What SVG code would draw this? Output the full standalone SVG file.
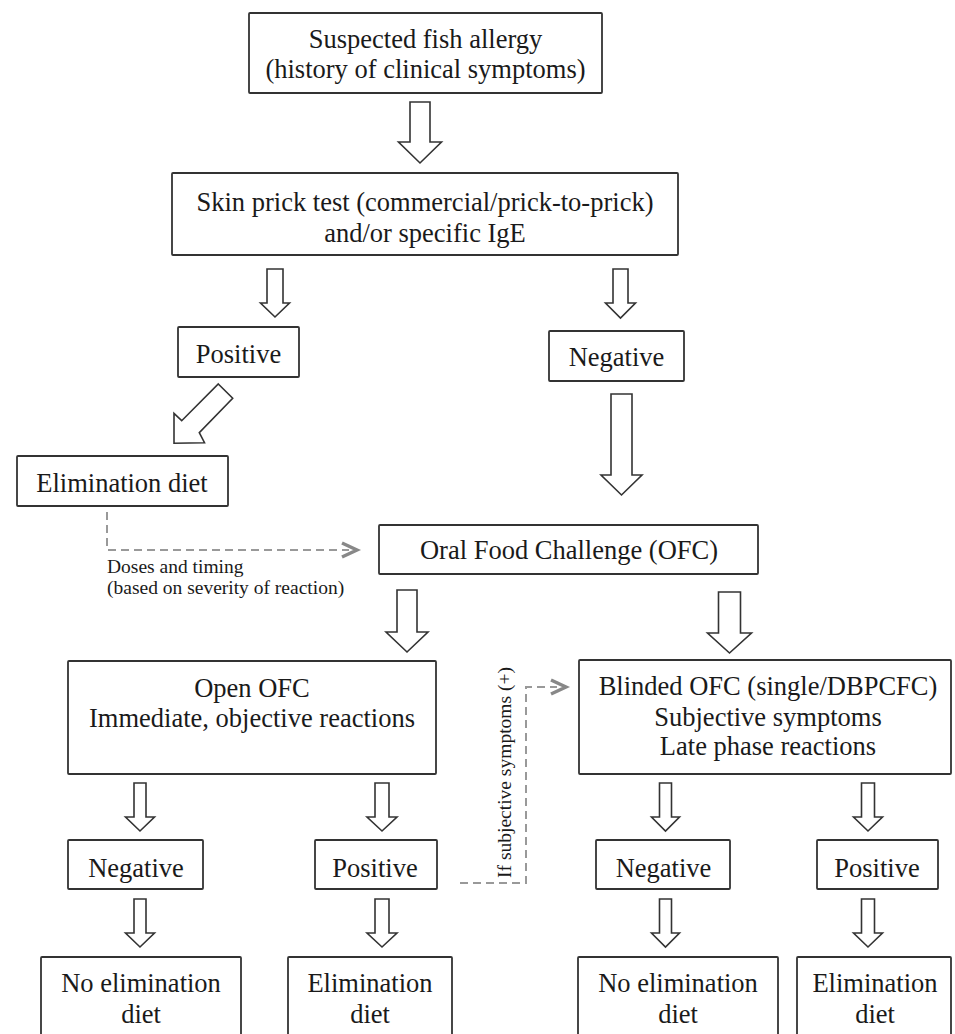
<svg xmlns="http://www.w3.org/2000/svg" width="955" height="1034" viewBox="0 0 955 1034">
<style>
.box{fill:#fff;stroke:#333;stroke-width:1.8}
.arr{fill:#fff;stroke:#333;stroke-width:1.6;stroke-linejoin:miter}
.t{font-family:"Liberation Serif","Times New Roman",serif;font-size:26.5px;fill:#1a1a1a;text-anchor:middle}
.s{font-family:"Liberation Serif","Times New Roman",serif;font-size:19.5px;fill:#1a1a1a}
.dash{fill:none;stroke:#999;stroke-width:2;stroke-dasharray:8 5}
.chev{fill:none;stroke:#888;stroke-width:3.4;stroke-linejoin:miter}
</style>
<rect width="955" height="1034" fill="#fff"/>
<g id="connectors">
<path class="arr" d="M410,102 H430 V142 H441.5 L420,163 L398.5,142 H410 Z"/>
<path class="arr" d="M267,269 H283 V303 H289.5 L275,317 L260.5,303 H267 Z"/>
<path class="arr" d="M613,269 H628 V303 H635.5 L620.5,318 L605.5,303 H613 Z"/>
<path class="arr" d="M611,394 H632 V475 H642 L621.5,495 L601,475 H611 Z"/>
<path class="arr" d="M218.3,384 L232.7,398.3 L199.3,432.7 L204.5,442.7 L174,443.3 L174,413.3 L181.7,420.7 Z"/>
<path class="arr" d="M397,590 H417 V632 H428 L407,652 L386,632 H397 Z"/>
<path class="arr" d="M718.5,592 H740.5 V633 H751.5 L729.5,653 L707.5,633 H718.5 Z"/>
<path class="arr" d="M134,783 H146 V817 H154.5 L140,831 L125.5,817 H134 Z"/>
<path class="arr" d="M134,899 H146 V933 H154.5 L140,947 L125.5,933 H134 Z"/>
<path class="arr" d="M375,783 H389 V817 H397 L382,831 L367,817 H375 Z"/>
<path class="arr" d="M375,899 H389 V933 H397 L382,947 L367,933 H375 Z"/>
<path class="arr" d="M659.5,783 H671.5 V817 H679.5 L665.5,831 L651.5,817 H659.5 Z"/>
<path class="arr" d="M659.5,899 H671.5 V933 H679.5 L665.5,947 L651.5,933 H659.5 Z"/>
<path class="arr" d="M861.5,783 H874.5 V817 H882.5 L868,831 L853.5,817 H861.5 Z"/>
<path class="arr" d="M861.5,899 H874.5 V933 H882.5 L868,947 L853.5,933 H861.5 Z"/>
<path class="dash" d="M107,512 V550 H349"/>
<path class="chev" d="M342,543 L357,550 L342,557"/>
<path class="dash" d="M460,883 H526 V687 H557"/>
<path class="chev" d="M551,680 L566,687 L551,694"/>
<text class="s" x="107" y="573">Doses and timing</text>
<text class="s" x="107" y="594">(based on severity of reaction)</text>
<text class="s" x="511" y="772.5" text-anchor="middle" font-size="19" transform="rotate(-90 511 772.5)">If subjective symptoms (+)</text>
</g>
<g id="n1"><rect class="box" x="249" y="13" width="353" height="80" rx="1"/>
<text class="t" x="425.5" y="48">Suspected fish allergy</text>
<text class="t" x="425.5" y="78">(history of clinical symptoms)</text></g>
<g id="n2"><rect class="box" x="172" y="173" width="506" height="82" rx="1"/>
<text class="t" x="425" y="211">Skin prick test (commercial/prick-to-prick)</text>
<text class="t" x="425" y="242">and/or specific IgE</text></g>
<g id="n3"><rect class="box" x="178" y="327" width="121" height="50" rx="1"/>
<text class="t" x="238.5" y="363">Positive</text></g>
<g id="n4"><rect class="box" x="549" y="331" width="135" height="50" rx="1"/>
<text class="t" x="616.5" y="366">Negative</text></g>
<g id="n5"><rect class="box" x="17" y="456" width="211" height="50" rx="1"/>
<text class="t" x="122" y="492">Elimination diet</text></g>
<g id="n6"><rect class="box" x="379" y="525" width="379" height="49" rx="1"/>
<text class="t" x="569" y="559">Oral Food Challenge (OFC)</text></g>
<g id="n7"><rect class="box" x="68" y="661" width="368" height="113" rx="1"/>
<text class="t" x="252" y="697">Open OFC</text>
<text class="t" x="252" y="727">Immediate, objective reactions</text></g>
<g id="n8"><rect class="box" x="579" y="660" width="372" height="114" rx="1"/>
<text class="t" x="768" y="695">Blinded OFC (single/DBPCFC)</text>
<text class="t" x="768" y="726">Subjective symptoms</text>
<text class="t" x="768" y="755">Late phase reactions</text></g>
<g id="n9"><rect class="box" x="68" y="840" width="135" height="49" rx="1"/>
<text class="t" x="136" y="877">Negative</text></g>
<g id="n10"><rect class="box" x="315" y="840" width="122" height="49" rx="1"/>
<text class="t" x="375" y="877">Positive</text></g>
<g id="n11"><rect class="box" x="596" y="840" width="134" height="49" rx="1"/>
<text class="t" x="663.5" y="877">Negative</text></g>
<g id="n12"><rect class="box" x="817" y="840" width="121" height="49" rx="1"/>
<text class="t" x="877" y="877">Positive</text></g>
<g id="n13"><rect class="box" x="41" y="957" width="200" height="95" rx="1"/>
<text class="t" x="141" y="992">No elimination</text>
<text class="t" x="141" y="1023">diet</text></g>
<g id="n14"><rect class="box" x="288" y="957" width="164" height="95" rx="1"/>
<text class="t" x="370" y="992">Elimination</text>
<text class="t" x="370" y="1023">diet</text></g>
<g id="n15"><rect class="box" x="578" y="957" width="200" height="95" rx="1"/>
<text class="t" x="678" y="992">No elimination</text>
<text class="t" x="678" y="1023">diet</text></g>
<g id="n16"><rect class="box" x="797" y="957" width="154" height="95" rx="1"/>
<text class="t" x="875" y="992">Elimination</text>
<text class="t" x="875" y="1023">diet</text></g>
</svg>
